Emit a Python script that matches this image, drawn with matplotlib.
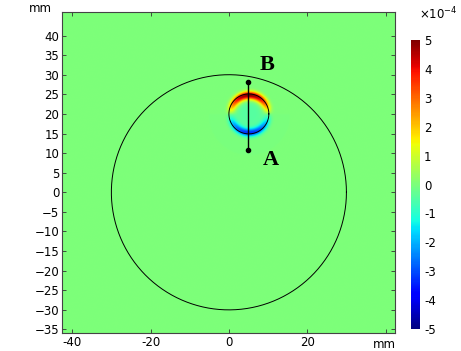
import numpy as np
import matplotlib.pyplot as plt

# geometry (mm)
outer_center = (0.0, 0.0)
outer_radius = 30.0
ring_center = (5.1, 20.0)
ring_radius = 5.1
point_a = (4.9, 10.7)
point_b = (4.9, 28.2)

# field parameters
peak_top = 5.0e-4
peak_bottom = 3.3e-4
peak_radius = 4.8
width_in = 1.1
width_out = 0.95
inner_level = -0.45e-4

xlim = (-42.6, 42.4)
ylim = (-35.9, 46.0)
xticks = [-40, -20, 0, 20, 40]
xticklabels = ['-40', '-20', '0', '20', '']
yticks = list(range(-35, 45, 5))
cbar_ticks = [-5, -4, -3, -2, -1, 0, 1, 2, 3, 4, 5]

# surface values on a regular grid
x = np.linspace(xlim[0], xlim[1], 900)
y = np.linspace(ylim[0], ylim[1], 860)
X, Y = np.meshgrid(x, y)
dx, dy = X - ring_center[0], Y - ring_center[1]
r = np.hypot(dx, dy)
s = dy / np.maximum(r, 1e-9)
amp = np.where(s > 0, peak_top, peak_bottom)
w = np.where(r < peak_radius, width_in, width_out)
band = np.exp(-((r - peak_radius) / w) ** 2)
field = amp * np.sign(s) * np.abs(s) ** 0.8 * band
field += inner_level * np.exp(-(r / 3.8) ** 4)

fig = plt.figure(figsize=(4.61, 3.51), dpi=100)
ax = fig.add_axes([62 / 461, 18 / 351, 333 / 461, 321 / 351])
im = ax.imshow(field, extent=[xlim[0], xlim[1], ylim[0], ylim[1]], origin='lower',
               cmap='jet', vmin=-5e-4, vmax=5e-4, interpolation='bilinear', aspect='auto')

t = np.linspace(0, 2 * np.pi, 400)
ax.plot(outer_center[0] + outer_radius * np.cos(t), outer_center[1] + outer_radius * np.sin(t),
        color='black', lw=0.7)
ax.plot(ring_center[0] + ring_radius * np.cos(t), ring_center[1] + ring_radius * np.sin(t),
        color='black', lw=0.7)

# cut line A-B
ax.plot([point_a[0], point_b[0]], [point_a[1], point_b[1]], color='black', lw=1.0)
ax.plot([point_a[0], point_b[0]], [point_a[1], point_b[1]], 'o', color='black', ms=3)
ax.text(10.7, 8.3, 'A', family='Liberation Serif', fontweight='bold', fontsize=16,
        ha='center', va='center')
ax.text(9.8, 32.6, 'B', family='Liberation Serif', fontweight='bold', fontsize=16,
        ha='center', va='center')

ax.set_xlim(xlim)
ax.set_ylim(ylim)
ax.set_xticks(xticks)
ax.set_xticklabels(xticklabels)
ax.set_yticks(yticks)
ax.tick_params(direction='in', length=3, width=0.6, labelsize=8.5, top=True, right=True,
               colors='#333333', labelcolor='black', pad=2)
for sp in ax.spines.values():
    sp.set_color('#444444')
    sp.set_linewidth(0.8)
fig.text(40 / 461, 1 - 9 / 351, 'mm', fontsize=8.5, ha='center', va='center')
fig.text(384 / 461, 1 - 345 / 351, 'mm', fontsize=8.5, ha='center', va='center')

# colour legend
cax = fig.add_axes([411 / 461, 22 / 351, 9 / 461, 289 / 351])
cb = fig.colorbar(im, cax=cax)
cb.set_ticks([v * 1e-4 for v in cbar_ticks])
cb.set_ticklabels([str(v) for v in cbar_ticks])
cb.ax.tick_params(length=0, labelsize=8.5, pad=3)
cb.outline.set_visible(False)
fig.text(438 / 461, 1 - 14 / 351, r'$\times 10^{-4}$', fontsize=8.5, ha='center', va='center',
         math_fontfamily='dejavusans')

fig.savefig('out.png', dpi=100)
